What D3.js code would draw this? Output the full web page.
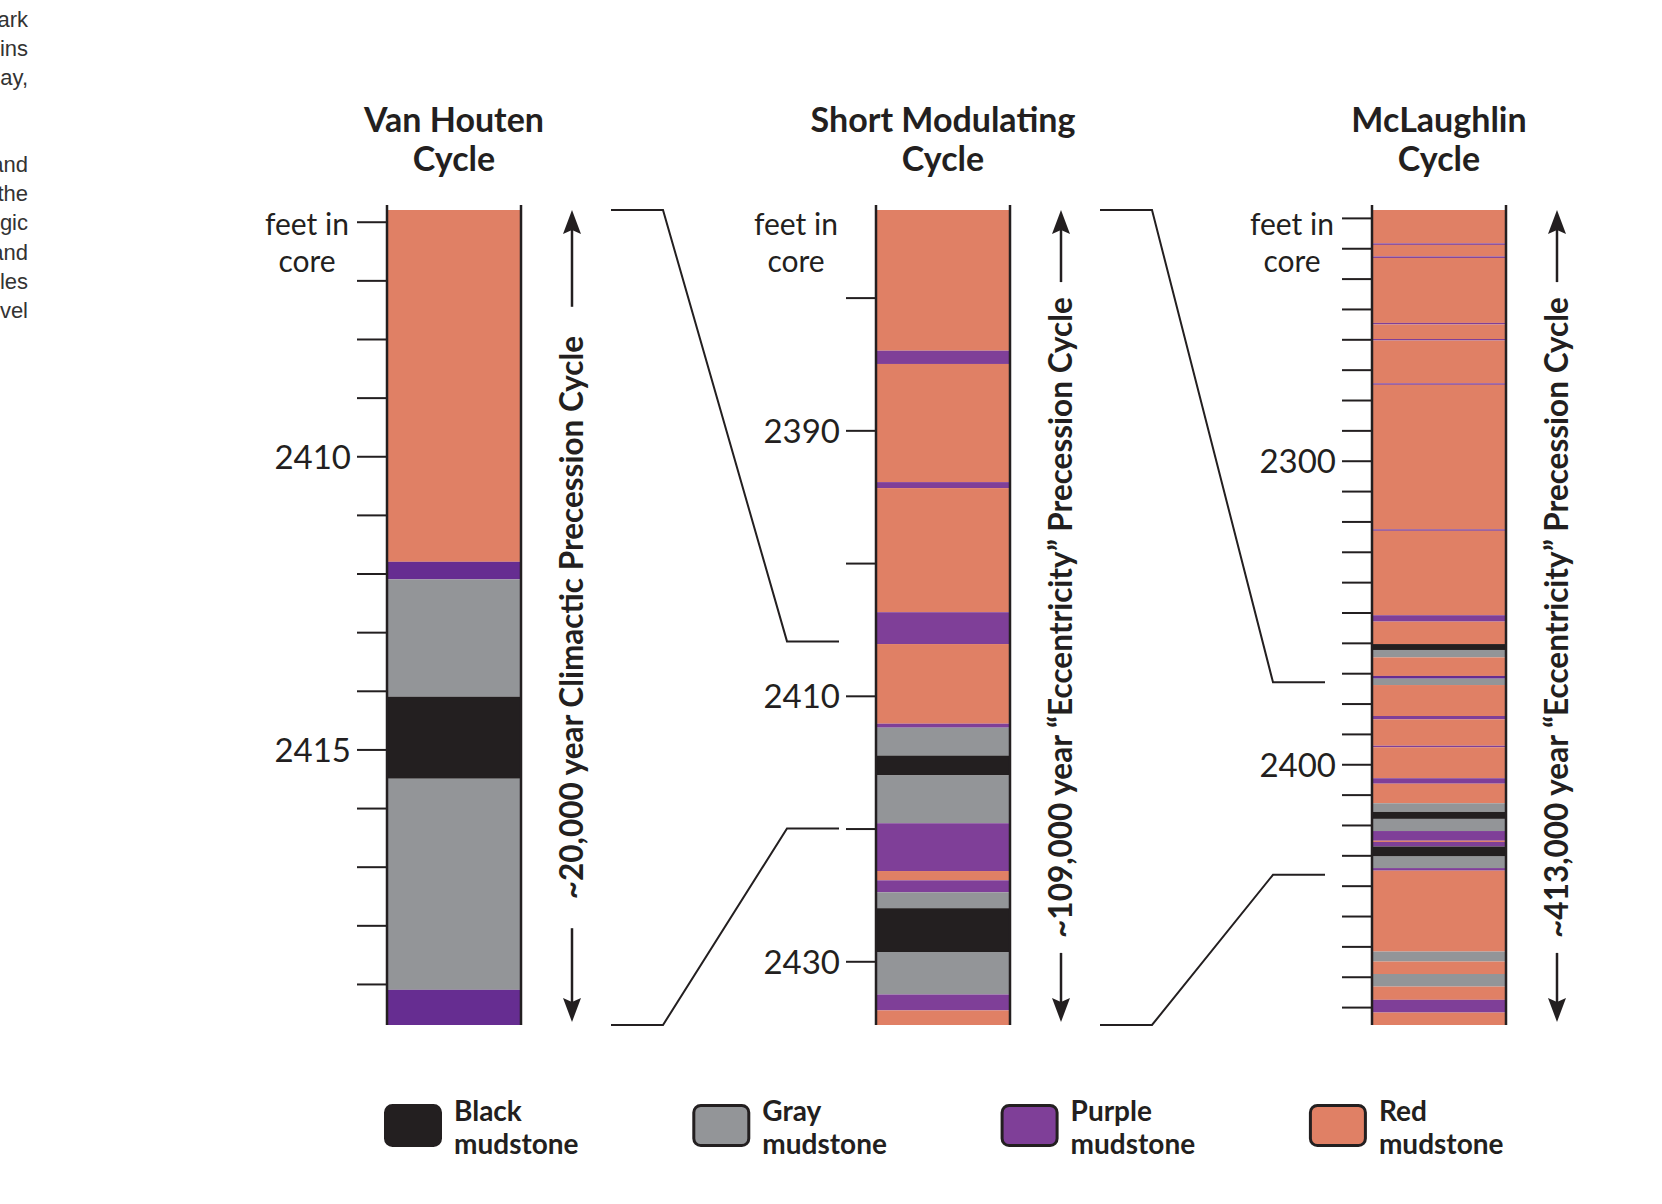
<!DOCTYPE html>
<html>
<head>
<meta charset="utf-8">
<script src="https://cdn.jsdelivr.net/npm/d3@7"></script>
<style>
  body { margin: 0; background: #fff; }
  svg text { font-family: Lato, "Open Sans", sans-serif; fill: #231f20; }
</style>
</head>
<body>
<div id="chart"></div>
<script>
// three core columns
var columnNames = ["Van Houten", "Short Modulating", "McLaughlin"];
var cycleLabels = [
    "~20,000 year Climactic Precession Cycle",
    "~109,000 year \u201cEccentricity\u201d Precession Cycle",
    "~413,000 year \u201cEccentricity\u201d Precession Cycle"
];

// layer boundaries (feet in core) and the mudstone between each pair
var vhBounds = [2405.8, 2411.8, 2412.1, 2414.1, 2415.5, 2419.1, 2419.7];
var vhLith = ["red", "darkPurple", "gray", "black", "gray", "darkPurple"];

var smBounds = [2373.4, 2384.0, 2385.0, 2393.9, 2394.35, 2403.7, 2406.1, 2412.1, 2412.4, 2414.5,
    2416.0, 2419.6, 2423.2, 2423.9, 2424.8, 2426.0, 2429.3, 2432.5, 2433.7, 2434.8];
var smLith = ["red", "purple", "red", "purple", "red", "purple", "red", "purple", "gray", "black",
    "gray", "purple", "red", "purple", "gray", "black", "gray", "purple", "red"];

var mlBounds = [2217.4, 2228.4, 2228.9, 2232.7, 2233.2, 2254.6, 2255.1, 2259.9, 2260.4, 2274.5,
    2275.0, 2322.6, 2323.1, 2350.9, 2353.0, 2360.4, 2362.35, 2364.8, 2370.9, 2371.8,
    2373.9, 2384.1, 2385.2, 2393.9, 2394.4, 2404.6, 2406.4, 2412.85, 2415.7, 2418.0,
    2422.0, 2425.2, 2425.6, 2427.1, 2430.4, 2434.2, 2435.05, 2461.7, 2465.0, 2469.1,
    2473.25, 2477.6, 2481.8, 2485.9];
var mlLith = ["red", "purple", "red", "purple", "red", "purple", "red", "purple", "red", "purple",
    "red", "purple", "red", "purple", "red", "black", "gray", "red", "darkPurple", "gray",
    "red", "purple", "red", "purple", "red", "purple", "red", "gray", "black", "gray",
    "purple", "red", "purple", "black", "gray", "purple", "red", "gray", "red", "gray",
    "red", "purple", "red"];

// depth ticks and the ones that get a number
var vhTicks = [2406, 2407, 2408, 2409, 2410, 2411, 2412, 2413, 2414, 2415, 2416, 2417, 2418, 2419];
var smTicks = [2380, 2390, 2400, 2410, 2420, 2430];
var mlTicks = [2220, 2230, 2240, 2250, 2260, 2270, 2280, 2290, 2300, 2310, 2320, 2330, 2340, 2350,
    2360, 2370, 2380, 2390, 2400, 2410, 2420, 2430, 2440, 2450, 2460, 2470, 2480];
var vhLabeled = [2410, 2415];
var smLabeled = [2390, 2410, 2430];
var mlLabeled = [2300, 2400];

// where the previous column's top/bottom lands in the next column
var linkDepths = [[2405.9, 2420.0], [2373.0, 2436.4]];

var legendNames = ["Black", "Gray", "Purple", "Red"];
var legendLith = ["black", "gray", "purple", "red"];

// clipped paragraph at the left edge of the page
var sideText = ["ark", "ins", "ay,", "", "", "and", "the", "gic", "and", "les", "vel"];
var caption = "Figure 1. Diagram showing the relationship between the Van Houten, Short Modulating and McLaughlin Cycles in the core.";

var lithColor = {
    red: "#e08065",
    purple: "#7f3f98",
    darkPurple: "#662d91",
    gray: "#939598",
    black: "#231f20"
};

var svgWidth = 1662;
var svgHeight = 1204;
var ink = "#231f20";
var colTop = 210;
var colBottom = 1025;

var svg = d3.select("#chart")
    .append("svg")
    .attr("width", svgWidth)
    .attr("height", svgHeight);

// left edge of each column
var xCol = d3.scaleOrdinal()
    .domain(columnNames)
    .range([387, 876, 1372]);
var bw = 134;

var allBounds = [vhBounds, smBounds, mlBounds];
var allLith = [vhLith, smLith, mlLith];
var allTicks = [vhTicks, smTicks, mlTicks];
var allLabeled = [vhLabeled, smLabeled, mlLabeled];
var arrowGap = [29, 15, 15];
var yScales = [];

columnNames.forEach(function(name, i) {
    var bounds = allBounds[i];
    var x0 = xCol(name);
    var y = d3.scaleLinear()
        .domain([bounds[0], bounds[bounds.length - 1]])
        .range([colTop, colBottom]);
    yScales.push(y);

    var g = svg.append("g");

    var layers = d3.pairs(bounds).map(function(p, j) {
        return { top: p[0], bottom: p[1], lith: allLith[i][j] };
    });

    g.selectAll("rect.layer")
        .data(layers)
        .enter()
        .append("rect")
        .attr("class", "layer")
        .attr("x", x0)
        .attr("width", bw)
        .attr("y", d => y(d.top))
        .attr("height", d => y(d.bottom) - y(d.top))
        .attr("fill", d => lithColor[d.lith]);

    // column walls
    [x0, x0 + bw].forEach(function(xx) {
        g.append("line")
            .attr("x1", xx).attr("x2", xx)
            .attr("y1", colTop - 5).attr("y2", colBottom)
            .attr("stroke", ink)
            .attr("stroke-width", 2.5);
    });

    // depth axis
    var labeled = allLabeled[i];
    var axis = d3.axisLeft(y)
        .tickValues(allTicks[i])
        .tickSize(29)
        .tickPadding(6)
        .tickFormat(d => labeled.indexOf(d) >= 0 ? d : "");
    var ag = g.append("g")
        .attr("transform", `translate(${x0 - 1}, 0)`)
        .call(axis)
        .attr("font-size", null)
        .attr("font-family", null);
    ag.select(".domain").remove();
    ag.selectAll(".tick line").attr("stroke", ink).attr("stroke-width", 2);
    ag.selectAll(".tick text")
        .style("font-size", "33px")
        .attr("dy", "0.36em")
        .attr("fill", ink);

    g.append("text")
        .attr("x", x0 - 80).attr("y", 235)
        .attr("text-anchor", "middle")
        .style("font-size", "30px")
        .text("feet in");
    g.append("text")
        .attr("x", x0 - 80).attr("y", 272)
        .attr("text-anchor", "middle")
        .style("font-size", "30px")
        .text("core");

    // title
    var cx = x0 + bw / 2;
    g.append("text")
        .attr("x", cx).attr("y", 132)
        .attr("text-anchor", "middle")
        .style("font-size", "34px")
        .style("font-weight", "bold")
        .text(name);
    g.append("text")
        .attr("x", cx).attr("y", 171)
        .attr("text-anchor", "middle")
        .style("font-size", "34px")
        .style("font-weight", "bold")
        .text("Cycle");

    // cycle label with arrows
    var ax = x0 + bw + 51;
    var mid = (colTop + colBottom) / 2;
    var lab = g.append("text")
        .attr("transform", `translate(${ax}, ${mid}) rotate(-90)`)
        .attr("text-anchor", "middle")
        .attr("dy", "0.36em")
        .style("font-size", "31.5px")
        .style("font-weight", "bold")
        .text(cycleLabels[i]);
    var half = lab.node().getComputedTextLength() / 2;

    g.append("line")
        .attr("x1", ax).attr("x2", ax)
        .attr("y1", colTop + 12).attr("y2", mid - half - arrowGap[i])
        .attr("stroke", ink).attr("stroke-width", 2.5);
    g.append("line")
        .attr("x1", ax).attr("x2", ax)
        .attr("y1", mid + half + arrowGap[i]).attr("y2", colBottom - 14)
        .attr("stroke", ink).attr("stroke-width", 2.5);
    g.append("path")
        .attr("d", `M${ax},${colTop} L${ax + 9},${colTop + 24} L${ax},${colTop + 20} L${ax - 9},${colTop + 24} Z`)
        .attr("fill", ink);
    g.append("path")
        .attr("d", `M${ax},${colBottom - 3} L${ax + 9},${colBottom - 27} L${ax},${colBottom - 23} L${ax - 9},${colBottom - 27} Z`)
        .attr("fill", ink);
});

// connector lines between columns
var endGap = [37, 47];
linkDepths.forEach(function(ld, i) {
    var xs = xCol(columnNames[i]) + bw + 90;
    var xe = xCol(columnNames[i + 1]) - endGap[i];
    var yFrom = yScales[i].range();
    var yTo = ld.map(d => yScales[i + 1](d));
    [0, 1].forEach(function(k) {
        var line = d3.line();
        svg.append("path")
            .attr("d", line([[xs, yFrom[k]], [xs + 52, yFrom[k]], [xe - 52, yTo[k]], [xe, yTo[k]]]))
            .attr("fill", "none")
            .attr("stroke", ink)
            .attr("stroke-width", 2);
    });
});

// legend
var lx = d3.scaleBand()
    .domain(legendNames)
    .range([384, 384 + 4 * 308.3]);

var lg = svg.selectAll("g.legend")
    .data(legendNames)
    .enter()
    .append("g")
    .attr("class", "legend")
    .attr("transform", d => `translate(${lx(d)}, 1104)`);

lg.append("rect")
    .attr("x", 1.5).attr("y", 1.5)
    .attr("width", 55).attr("height", 40)
    .attr("rx", 7)
    .attr("fill", (d, i) => lithColor[legendLith[i]])
    .attr("stroke", ink)
    .attr("stroke-width", 3);
lg.append("text")
    .attr("x", 70).attr("y", 17)
    .style("font-size", "28px")
    .style("font-weight", "bold")
    .text(d => d);
lg.append("text")
    .attr("x", 70).attr("y", 50)
    .style("font-size", "28px")
    .style("font-weight", "bold")
    .text("mudstone");

// page text around the figure
svg.selectAll("text.side")
    .data(sideText)
    .enter()
    .append("text")
    .attr("class", "side")
    .attr("x", 28)
    .attr("y", (d, i) => 26.7 + i * 29.1)
    .attr("text-anchor", "end")
    .style("font-family", "'Liberation Sans', Arial, sans-serif")
    .style("font-size", "22px")
    .style("fill", "#333")
    .text(d => d);

svg.append("text")
    .attr("x", 301).attr("y", 1220)
    .style("font-family", "'Liberation Sans', Arial, sans-serif")
    .style("font-size", "22px")
    .style("fill", "#666")
    .text(caption);
</script>
</body>
</html>
